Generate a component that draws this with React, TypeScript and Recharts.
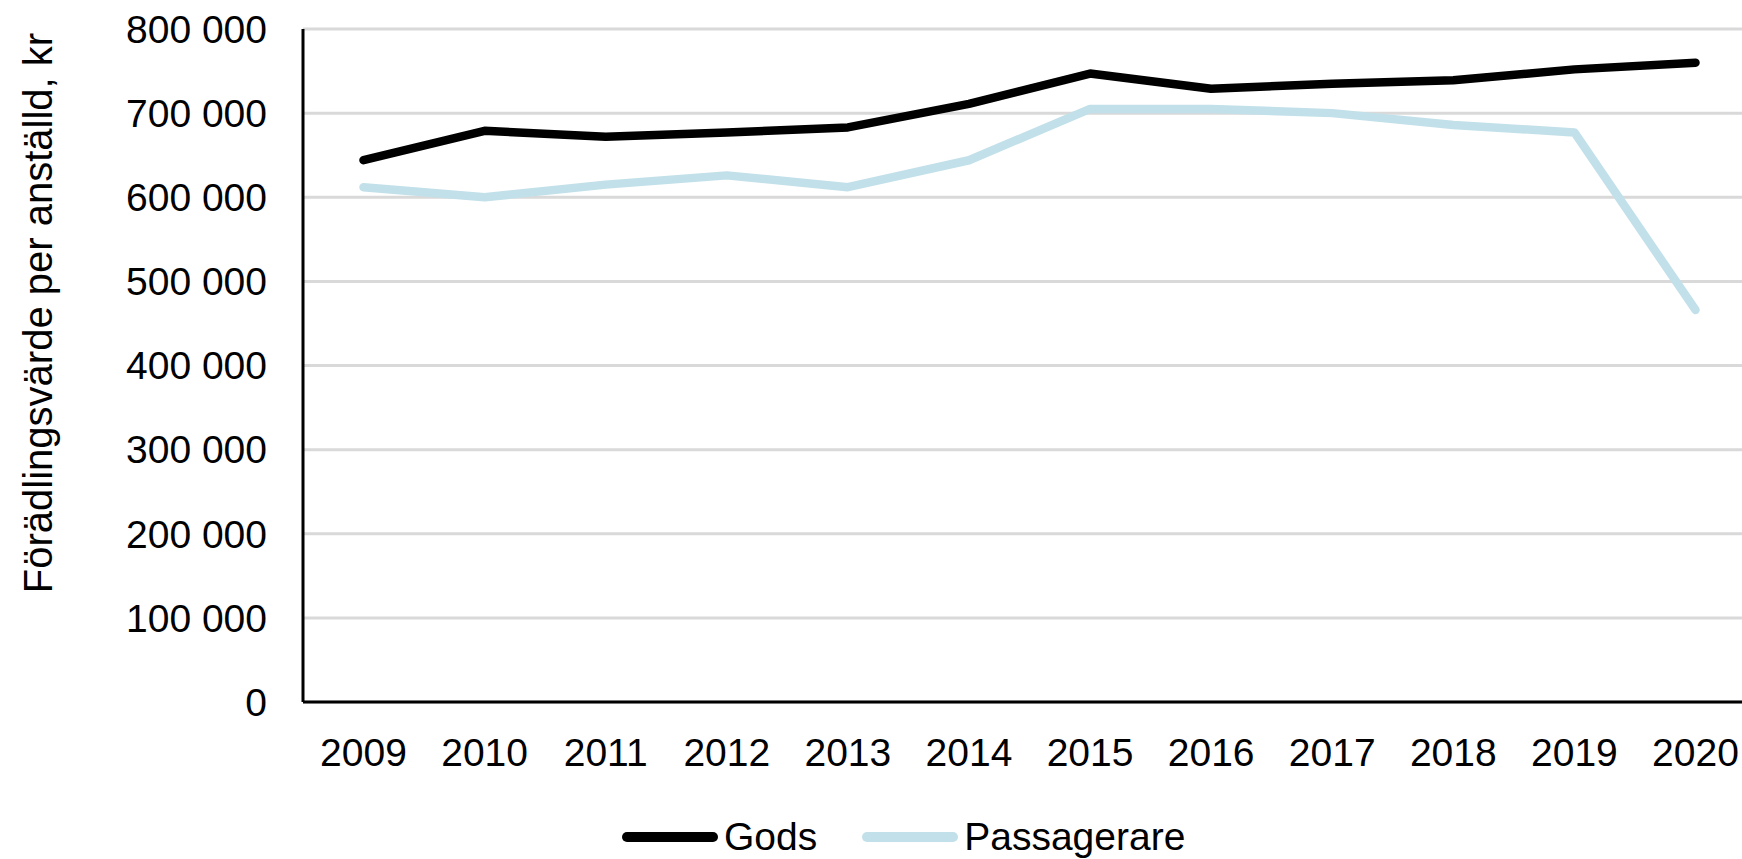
import React from 'react';
import { LineChart, Line, XAxis, YAxis, CartesianGrid, Legend, Label } from 'recharts';

const years = ['2009', '2010', '2011', '2012', '2013', '2014', '2015', '2016', '2017', '2018', '2019', '2020'];
const gods = [644000, 679000, 672000, 677000, 683000, 711000, 747000, 729000, 735000, 739000, 752000, 760000];
const passagerare = [612000, 600000, 615000, 626000, 612000, 644000, 705000, 705000, 700000, 686000, 677000, 466000];
const yTicks = [0, 100000, 200000, 300000, 400000, 500000, 600000, 700000, 800000];
const seriesNames = ['Gods', 'Passagerare'];
const seriesColors = ['#000000', '#C2E0E9'];
const yLabel = 'Förädlingsvärde per anställd, kr';

const data = years.map((y, i) => ({ year: y, Gods: gods[i], Passagerare: passagerare[i] }));

const FONT = '"Liberation Sans", Arial, sans-serif';

const fmt = (v: number) => {
  const s = String(Math.round(v));
  return s.replace(/\B(?=(\d{3})+(?!\d))/g, ' ');
};

const LegendContent = () => (
  <div style={{ display: 'flex', alignItems: 'center', height: 44, paddingLeft: 622, fontFamily: FONT, fontSize: 39, color: '#000' }}>
    {seriesNames.map((n, i) => (
      <div key={n} style={{ display: 'flex', alignItems: 'center', marginRight: 45 }}>
        <svg width={96} height={14} style={{ display: 'block' }}>
          <line x1={5} y1={7} x2={91} y2={7} stroke={seriesColors[i]} strokeWidth={10} strokeLinecap="round" />
        </svg>
        <span style={{ marginLeft: 6, lineHeight: '44px' }}>{n}</span>
      </div>
    ))}
  </div>
);

const YLabelContent = (props: any) => {
  const vb = props.viewBox || { x: 0, y: 0, width: 0, height: 0 };
  const x = vb.x + 52;
  const y = 313;
  return (
    <text x={x} y={y} transform={`rotate(-90, ${x}, ${y})`} textAnchor="middle" fontFamily={FONT} fontSize={40} fill="#000">
      {yLabel}
    </text>
  );
};

export default function App() {
  return (
    <div style={{ position: 'absolute', left: 0, top: 0, width: 1742, height: 859, overflow: 'hidden', background: '#fff' }}>
      <LineChart width={1760} height={859} data={data} margin={{ top: 29, right: 4, bottom: 0, left: 0 }}>
        <CartesianGrid vertical={false} stroke="#D9D9D9" strokeWidth={3} />
        <XAxis
          dataKey="year"
          height={113}
          padding={{ left: 60.5, right: 60.5 }}
          tickLine={false}
          tickSize={0}
          tickMargin={36}
          axisLine={{ stroke: '#000', strokeWidth: 3 }}
          tick={{ fill: '#000', fontSize: 39, fontFamily: FONT }}
          interval={0}
        />
        <YAxis
          width={303}
          domain={[0, 800000]}
          ticks={yTicks}
          tickFormatter={fmt}
          tickLine={false}
          tickSize={0}
          tickMargin={36}
          axisLine={{ stroke: '#000', strokeWidth: 3 }}
          tick={{ fill: '#000', fontSize: 39, fontFamily: FONT }}
          interval={0}
        >
          <Label content={YLabelContent} />
        </YAxis>
        <Legend verticalAlign="bottom" height={44} content={LegendContent} />
        <Line dataKey="Gods" stroke={seriesColors[0]} strokeWidth={8.5} dot={false} strokeLinejoin="round" strokeLinecap="round" isAnimationActive={false} />
        <Line dataKey="Passagerare" stroke={seriesColors[1]} strokeWidth={8.5} dot={false} strokeLinejoin="round" strokeLinecap="round" isAnimationActive={false} />
      </LineChart>
    </div>
  );
}
